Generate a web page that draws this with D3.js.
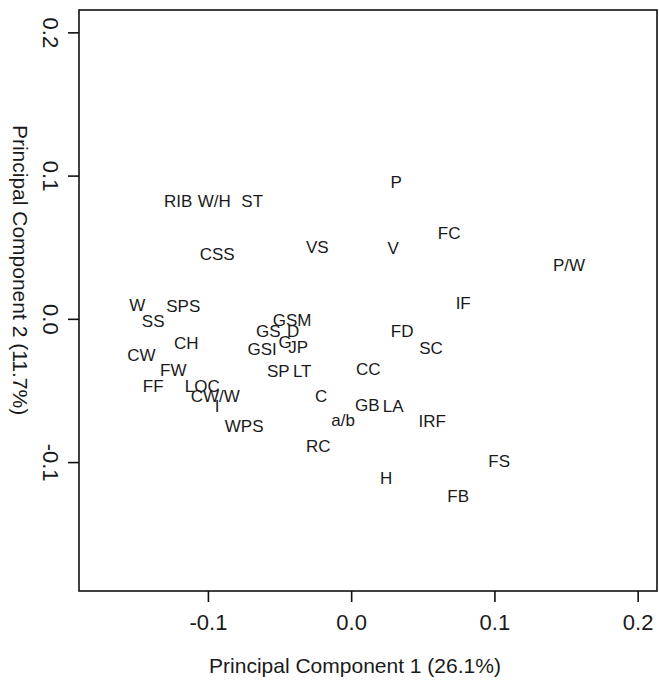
<!DOCTYPE html>
<html>
<head>
<meta charset="utf-8">
<script src="https://cdn.jsdelivr.net/npm/d3@7"></script>
<style>
  html, body { margin: 0; padding: 0; background: #fff; }
  svg { display: block; }
  text { font-family: "Liberation Sans", Arial, sans-serif; fill: #1a1a1a; }
</style>
</head>
<body>
<svg id="chart" width="659" height="686"></svg>
<script>
// Variable labels and their loadings on the first two principal components
const labels = ["P", "RIB", "W/H", "ST", "FC", "CSS", "VS", "V", "P/W", "IF",
  "W", "SPS", "SS", "GSM", "GS", "D", "FD", "CH", "G", "JP",
  "GSI", "SC", "CW", "FW", "SP", "LT", "CC", "FF", "LOC", "CW/W",
  "I", "C", "GB", "LA", "a/b", "IRF", "WPS", "RC", "FS", "H", "FB"];
const pc1 = [0.0314, -0.1207, -0.0956, -0.0691, 0.0684, -0.0935, -0.0237, 0.0293, 0.1521, 0.0782,
  -0.1493, -0.1172, -0.1382, -0.0412, -0.0579, -0.0405, 0.0356, -0.1151, -0.0461, -0.0370,
  -0.0621, 0.0558, -0.1465, -0.1242, -0.0509, -0.0342, 0.0119, -0.1382, -0.1040, -0.0949,
  -0.0935, -0.0209, 0.0112, 0.0293, -0.0056, 0.0565, -0.0747, -0.0230, 0.1033, 0.0244, 0.0747];
const pc2 = [0.0949, 0.0816, 0.0816, 0.0816, 0.0593, 0.0447, 0.0495, 0.0488, 0.0370, 0.0105,
  0.0091, 0.0084, -0.0021, -0.0014, -0.0091, -0.0091, -0.0091, -0.0174, -0.0167, -0.0202,
  -0.0216, -0.0209, -0.0258, -0.0363, -0.0370, -0.0370, -0.0356, -0.0475, -0.0475, -0.0544,
  -0.0614, -0.0544, -0.0607, -0.0614, -0.0712, -0.0719, -0.0754, -0.0893, -0.0998, -0.1117, -0.1242];

const xTicks = [-0.1, 0.0, 0.1, 0.2];
const yTicks = [-0.1, 0.0, 0.1, 0.2];
const xTitle = "Principal Component 1 (26.1%)";
const yTitle = "Principal Component 2 (11.7%)";

const svg = d3.select("#chart");
const plot = { left: 79, right: 657, top: 10, bottom: 591 };

const x = d3.scaleLinear().domain([-0.190, 0.2135]).range([plot.left, plot.right]);
const y = d3.scaleLinear().domain([-0.190, 0.2156]).range([plot.bottom, plot.top]);

// Tick labels with a plain hyphen for negatives
const fmt = d => d.toFixed(1);

// Plot frame
svg.append("rect")
  .attr("x", plot.left).attr("y", plot.top)
  .attr("width", plot.right - plot.left).attr("height", plot.bottom - plot.top)
  .attr("fill", "none").attr("stroke", "#111").attr("stroke-width", 1.6);

// Bottom axis
const xAxis = d3.axisBottom(x).tickValues(xTicks).tickFormat(fmt)
  .tickSizeInner(11).tickSizeOuter(0);
const gx = svg.append("g").attr("transform", `translate(0,${plot.bottom})`).call(xAxis);
gx.select(".domain").remove();
gx.selectAll(".tick line").attr("stroke", "#111").attr("stroke-width", 1.6);
gx.selectAll(".tick text")
  .attr("y", 31).attr("dy", null)
  .attr("dominant-baseline", "central")
  .attr("font-size", 22).attr("fill", "#1a1a1a")
  .style("font-family", "Liberation Sans, Arial, sans-serif");

// Left axis, labels parallel to the axis
const yAxis = d3.axisLeft(y).tickValues(yTicks).tickFormat(fmt)
  .tickSizeInner(11).tickSizeOuter(0);
const gy = svg.append("g").attr("transform", `translate(${plot.left},0)`).call(yAxis);
gy.select(".domain").remove();
gy.selectAll(".tick line").attr("stroke", "#111").attr("stroke-width", 1.6);
gy.selectAll(".tick text")
  .attr("x", null).attr("dy", null)
  .attr("text-anchor", "middle")
  .attr("dominant-baseline", "central")
  .attr("transform", "translate(-29,0) rotate(90)")
  .attr("font-size", 22).attr("fill", "#1a1a1a")
  .style("font-family", "Liberation Sans, Arial, sans-serif");

// Axis titles
svg.append("text")
  .attr("x", 355).attr("y", 665)
  .attr("text-anchor", "middle").attr("dominant-baseline", "central")
  .attr("font-size", 21)
  .text(xTitle);

svg.append("text")
  .attr("transform", "translate(20,270) rotate(90)")
  .attr("text-anchor", "middle").attr("dominant-baseline", "central")
  .attr("font-size", 21)
  .text(yTitle);

// Variable labels at their loadings
svg.append("g").selectAll("text")
  .data(labels.map((t, i) => ({ t, a: pc1[i], b: pc2[i] })))
  .join("text")
  .attr("x", d => x(d.a))
  .attr("y", d => y(d.b))
  .attr("text-anchor", "middle")
  .attr("dominant-baseline", "central")
  .attr("font-size", 17)
  .text(d => d.t);
</script>
</body>
</html>
